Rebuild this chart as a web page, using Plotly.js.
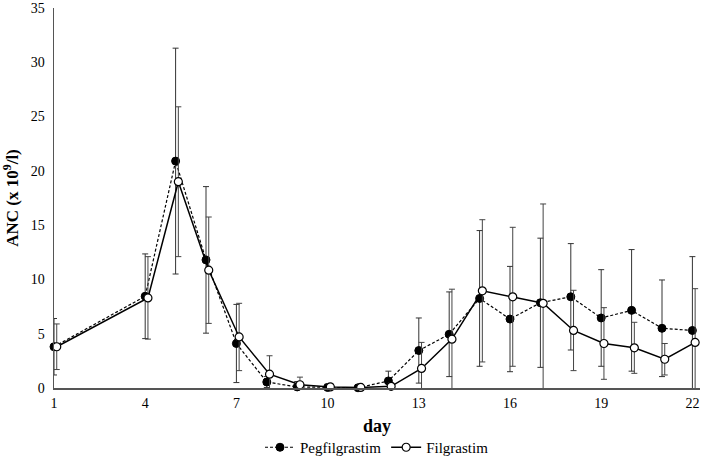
<!DOCTYPE html>
<html>
<head>
<meta charset="utf-8">
<script src="https://cdn.plot.ly/plotly-3.0.1.min.js"></script>
<style>html,body{margin:0;padding:0;background:#fff;}#chart{width:709px;height:472px;}</style>
</head>
<body>
<div id="chart"></div>
<script>
const days = [1,4,5,6,7,8,9,10,11,12,13,14,15,16,17,18,19,20,21,22];
const pegMean = [3.8,8.45,20.9,11.8,4.1,0.55,0.1,0.05,0.02,0.65,3.45,4.95,8.25,6.35,7.85,8.4,6.45,7.15,5.5,5.3];
const pegErr  = [2.6,3.9,10.4,6.75,3.6,0.5,0.5,0.3,0.1,0.9,3.0,3.9,6.25,4.85,5.95,4.9,4.45,5.6,4.45,6.8];
const filMean = [3.8,8.3,19.0,10.85,4.7,1.27,0.3,0.1,0.05,0.15,1.8,4.5,8.95,8.4,7.8,5.3,4.1,3.7,2.65,4.2];
const filErr  = [2.1,3.8,6.9,4.9,3.1,1.7,0.7,0.3,0.1,0.3,2.4,4.6,6.55,6.4,9.15,3.7,3.3,2.35,1.45,4.95];
const tickVals = [1,4,7,10,13,16,19,22];
const seriesNames = ['Pegfilgrastim','Filgrastim'];

const filOffset = 0.09;
const font = 'Liberation Serif';

const traces = [
  {
    x: days, y: pegMean, name: seriesNames[0], type: 'scatter', mode: 'lines+markers',
    line: {color: '#000', width: 1.2, dash: '3px,2px'},
    marker: {symbol: 'circle', size: 8, color: '#000', line: {color: '#000', width: 1}},
    error_y: {type: 'data', array: pegErr, visible: true, color: '#333', thickness: 1, width: 3},
    cliponaxis: false
  },
  {
    x: days.map(d => d + filOffset), y: filMean, name: seriesNames[1], type: 'scatter', mode: 'lines+markers',
    line: {color: '#000', width: 1.5},
    marker: {symbol: 'circle', size: 8, color: '#fff', line: {color: '#000', width: 1.2}},
    error_y: {type: 'data', array: filErr, visible: true, color: '#444', thickness: 1, width: 3},
    cliponaxis: false
  }
];

const layout = {
  width: 709, height: 472,
  margin: {l: 54, r: 9, t: 8, b: 80},
  paper_bgcolor: '#fff', plot_bgcolor: '#fff',
  font: {family: font, color: '#000', size: 14},
  showlegend: true,
  legend: {orientation: 'h', x: 0.5, xanchor: 'center', y: -0.2, yanchor: 'bottom',
           font: {family: font, size: 15, color: '#000'}, itemwidth: 30, tracegroupgap: 0, bgcolor: 'rgba(0,0,0,0)'},
  xaxis: {
    range: [1, 22.25], tickvals: tickVals, ticktext: tickVals.map(String), automargin: 'bottom',
    showgrid: false, zeroline: false, showline: true, linecolor: '#555', linewidth: 1.5,
    ticks: '', ticklabelstandoff: 2,
    tickfont: {family: font, size: 14, color: '#000'},
    title: {text: '<b>day</b>', font: {family: font, size: 18, color: '#000'}, standoff: 9}
  },
  yaxis: {
    range: [0, 35], dtick: 5, tick0: 0, automargin: 'left',
    showgrid: false, zeroline: false, showline: true, linecolor: '#555', linewidth: 1.5,
    ticks: '', ticklabelstandoff: 5, ticklabeloverflow: 'allow',
    tickfont: {family: font, size: 14, color: '#000'},
    title: {text: '<b>ANC (x 10<sup>9</sup>/l)</b>', font: {family: font, size: 17, color: '#000'}, standoff: 12}
  }
};

Plotly.newPlot('chart', traces, layout, {displayModeBar: false, staticPlot: true});
</script>
</body>
</html>
